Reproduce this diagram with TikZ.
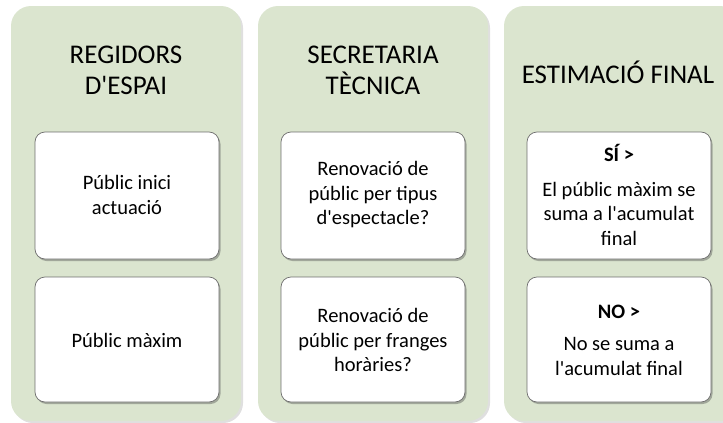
\documentclass[tikz,border=0pt]{standalone}
\usepackage{fontspec}
\setmainfont{Carlito}[Ligatures=TeXOff]
\usetikzlibrary{shadows}
\definecolor{panelgreen}{RGB}{219,229,207}
\definecolor{boxborder}{RGB}{110,110,110}
\tikzset{
  panel/.style={fill=panelgreen, draw=none, rounded corners=20pt,
    drop shadow={shadow xshift=2pt, shadow yshift=-2pt, opacity=0.25, fill=gray}},
  card/.style={fill=white, draw=boxborder, line width=0.7pt, rounded corners=10pt,
    drop shadow={shadow xshift=1.5pt, shadow yshift=-2pt, opacity=0.4, fill=black!70}},
  title/.style={font=\fontsize{27}{31}\selectfont, align=center, text=black},
  body/.style={font=\fontsize{20.5}{24.5}\selectfont, align=center, text=black},
}
\begin{document}
\begin{tikzpicture}[x=1pt,y=-1pt]
\useasboundingbox (0,0) rectangle (723,423);
\begin{scope}
\clip (0,0) rectangle (723,423);
% panels
\path[panel] (11,6) rectangle (241,421);
\path[panel] (258,6) rectangle (488,421);
\path[panel] (504,6) rectangle (740,421);
% cards
\path[card] (35,132) rectangle (219,259);
\path[card] (35,277) rectangle (219,402);
\path[card] (281,132) rectangle (465,259);
\path[card] (281,277) rectangle (465,402);
\path[card] (527,132) rectangle (711,259);
\path[card] (527,277) rectangle (711,402);
\end{scope}
% titles
\node[title] (t1) at (126,70) {REGIDORS\\D'ESPAI};
\node[title] (t2) at (373,70) {SECRETARIA\\TÈCNICA};
\node[title] (t3) at (618,72) {ESTIMACIÓ FINAL};
% texts
\node[body] (a1) at (127,195) {Públic inici\\actuació};
\node[body] (a2) at (127,340) {Públic màxim};
\node[body] (b1) at (373,195) {Renovació de\\públic per tipus\\d'espectacle?};
\node[body] (b2) at (373,340) {Renovació de\\públic per franges\\horàries?};
\node[body] (c1) at (619,195) {\textbf{SÍ >}\\[10pt]El públic màxim se\\suma a l'acumulat\\final};
\node[body] (c2) at (619,340) {\textbf{NO >}\\[8pt]No se suma a\\l'acumulat final};
\end{tikzpicture}
\end{document}
